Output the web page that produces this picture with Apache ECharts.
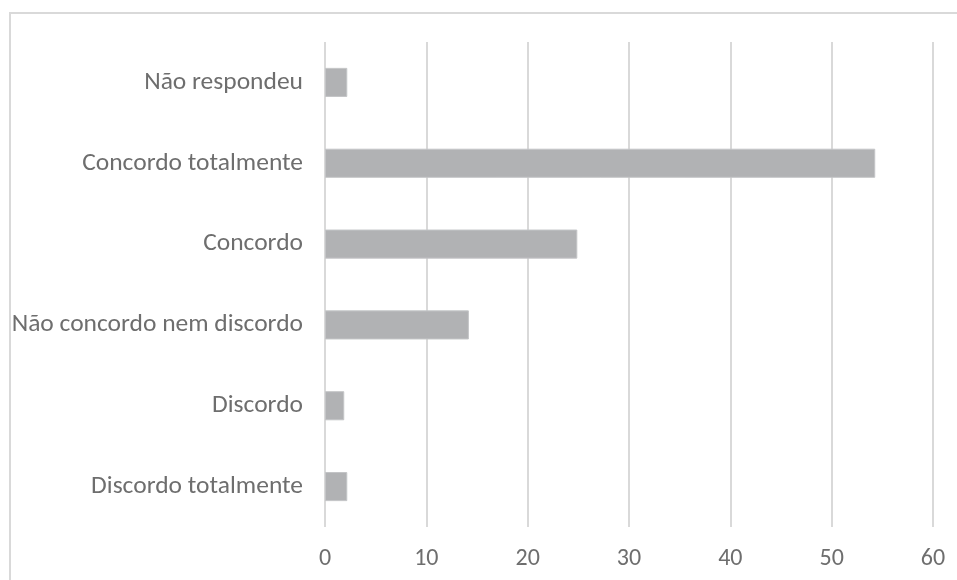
<!DOCTYPE html>
<html>
<head>
<meta charset="utf-8">
<script src="https://cdn.jsdelivr.net/npm/echarts@6/dist/echarts.min.js"></script>
<style>
  html, body { margin: 0; padding: 0; background: #fff; }
  #frame { position: absolute; left: 9px; top: 12px; width: 960px; height: 580px; border: 2px solid #d9d9d9; box-sizing: border-box; }
  #chart { width: 957px; height: 580px; position: absolute; left: 0; top: 0; }
</style>
</head>
<body>
<div id="frame"></div>
<div id="chart"></div>
<script>
const categories = ['Discordo totalmente', 'Discordo', 'Não concordo nem discordo', 'Concordo', 'Concordo totalmente', 'Não respondeu']
const values = [2.2, 1.9, 14.2, 24.9, 54.3, 2.2]
const xTicks = { min: 0, max: 60, interval: 10 }

const chart = echarts.init(document.getElementById('chart'))
const fontFamily = 'Carlito, "Liberation Sans Narrow", "Open Sans", sans-serif'

chart.setOption({
  animation: false,
  grid: {
    left: 325,
    right: 24,
    top: 42,
    bottom: 53
  },
  xAxis: {
    type: 'value',
    min: xTicks.min,
    max: xTicks.max,
    interval: xTicks.interval,
    axisLine: { show: false },
    axisTick: { show: false },
    axisLabel: { color: '#6e6e6e', fontSize: 24, fontFamily, margin: 20 },
    splitLine: { lineStyle: { color: '#d9d9d9', width: 2 } }
  },
  yAxis: {
    type: 'category',
    data: categories,
    axisLine: { show: false },
    axisTick: { show: false },
    axisLabel: { color: '#6e6e6e', fontSize: 25.5, fontFamily, margin: 22 }
  },
  series: [{
    type: 'bar',
    data: values,
    barWidth: '36%',
    itemStyle: { color: '#b1b2b4', borderColor: '#c4c5c7', borderWidth: 1 }
  }]
})
</script>
</body>
</html>
